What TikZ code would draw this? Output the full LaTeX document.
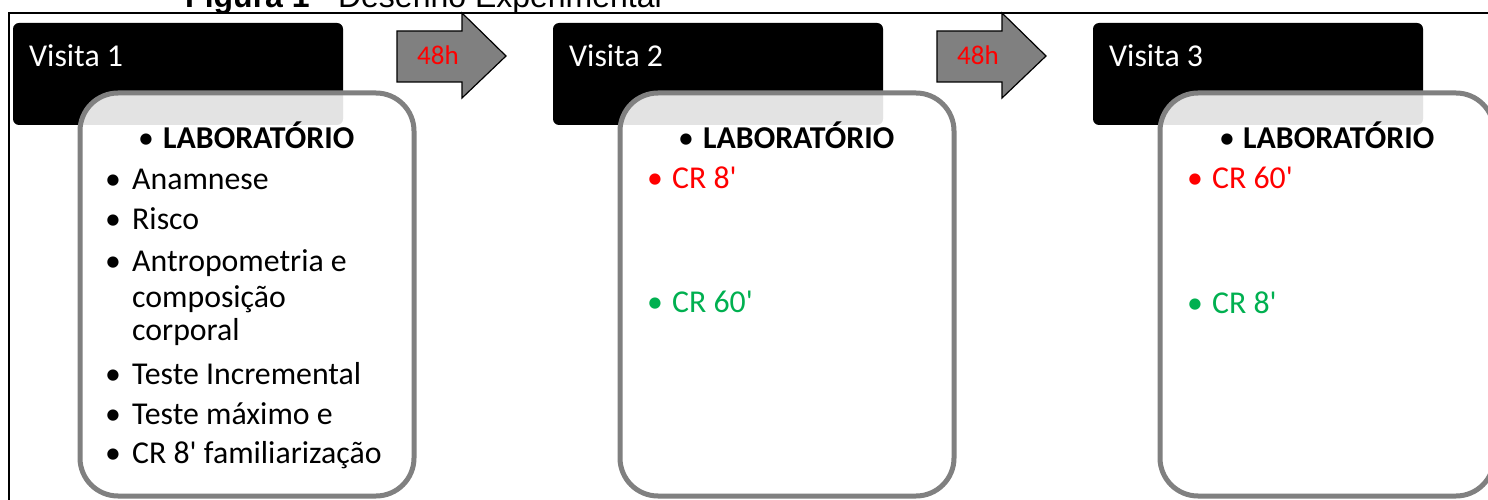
\documentclass[tikz,border=0pt]{standalone}
\usepackage{fontspec}
\newfontfamily\calibri{Carlito}
\newfontfamily\arial{Liberation Sans}
\definecolor{boxgray}{HTML}{808080}
\definecolor{okgreen}{HTML}{00B050}
\tikzset{
  frameline/.style={draw=black, line width=1.5bp},
  visitbox/.style={fill=black, rounded corners=6bp},
  panel/.style={draw=boxgray, line width=5bp, fill=white, fill opacity=0.89, rounded corners=38bp},
  blockarrow/.style={draw=black, line width=1.2bp, fill=boxgray, line join=miter},
  body/.style={font=\calibri\fontsize{31.8bp}{38bp}\selectfont, inner sep=0pt, anchor=base west},
  dot/.style={font=\calibri\fontsize{31.8bp}{38bp}\selectfont, inner sep=0pt, anchor=base},
  head/.style={body, font=\calibri\bfseries\fontsize{31.8bp}{38bp}\selectfont},
  visit/.style={body, text=white},
  gap/.style={font=\calibri\fontsize{27bp}{32bp}\selectfont, inner sep=0pt, anchor=base, text=red},
}
\begin{document}
\begin{tikzpicture}[x=1bp, y=-1bp]
\useasboundingbox (0,0) rectangle (1488,500);
\clip (0,0) rectangle (1488,500);

% caption
\node[inner sep=0pt, anchor=base west, font=\arial\fontsize{32bp}{38bp}\selectfont] (caption) at (185,8) {\textbf{Figura 1} - Desenho Experimental};

% outer frame
\draw[frameline] (1488,13) -- (9,13) -- (9,500);

% visit headers
\fill[visitbox] (13,23) rectangle (343,125);
\fill[visitbox] (553,23) rectangle (883,125);
\fill[visitbox] (1093,23) rectangle (1423,125);
\node[visit] (v1) at (29,67) {Visita 1};
\node[visit] (v2) at (569,67) {Visita 2};
\node[visit] (v3) at (1109,67) {Visita 3};

% 48h block arrows
\draw[blockarrow] (397,31) -- (462,31) -- (462,13) -- (506,56) -- (462,98) -- (462,82) -- (397,82) -- cycle;
\draw[blockarrow] (937,31) -- (1002,31) -- (1002,13) -- (1046,56) -- (1002,98) -- (1002,82) -- (937,82) -- cycle;
\node[gap] (g1) at (438,65) {48h};
\node[gap] (g2) at (978,65) {48h};

% content panels
\draw[panel] (80,93) rectangle (414,496);
\draw[panel] (620,93) rectangle (954,496);
\draw[panel] (1160,93) rectangle (1494,496);

% panel 1
\node[dot] (b1h) at (146,149) {•};
\node[head] (l1) at (163,149) {LABORATÓRIO};
\node[dot] (b1a) at (113,190) {•};
\node[body] (t1a) at (132,190) {Anamnese};
\node[dot] (b1b) at (113,230) {•};
\node[body] (t1b) at (132,230) {Risco};
\node[dot] (b1c) at (113,272) {•};
\node[body] (t1c) at (132,272) {Antropometria e};
\node[body] (t1c2) at (132,307) {composição};
\node[body] (t1c3) at (132,340) {corporal};
\node[dot] (b1d) at (113,384) {•};
\node[body] (t1d) at (132,384) {Teste Incremental};
\node[dot] (b1e) at (113,424) {•};
\node[body] (t1e) at (132,424) {Teste máximo e};
\node[dot] (b1f) at (113,463) {•};
\node[body] (t1f) at (132,463) {CR 8' familiarização};

% panel 2
\node[dot] (b2h) at (686,149) {•};
\node[head] (l2) at (703,149) {LABORATÓRIO};
\node[dot, text=red] (b2a) at (655,189) {•};
\node[body, text=red] (t2a) at (672,189) {CR 8'};
\node[dot, text=okgreen] (b2b) at (655,312) {•};
\node[body, text=okgreen] (t2b) at (672,312) {CR 60'};

% panel 3
\node[dot] (b3h) at (1227,149) {•};
\node[head] (l3) at (1243,149) {LABORATÓRIO};
\node[dot, text=red] (b3a) at (1195,189) {•};
\node[body, text=red] (t3a) at (1212,189) {CR 60'};
\node[dot, text=okgreen] (b3b) at (1195,313) {•};
\node[body, text=okgreen] (t3b) at (1212,313) {CR 8'};
\end{tikzpicture}
\end{document}
